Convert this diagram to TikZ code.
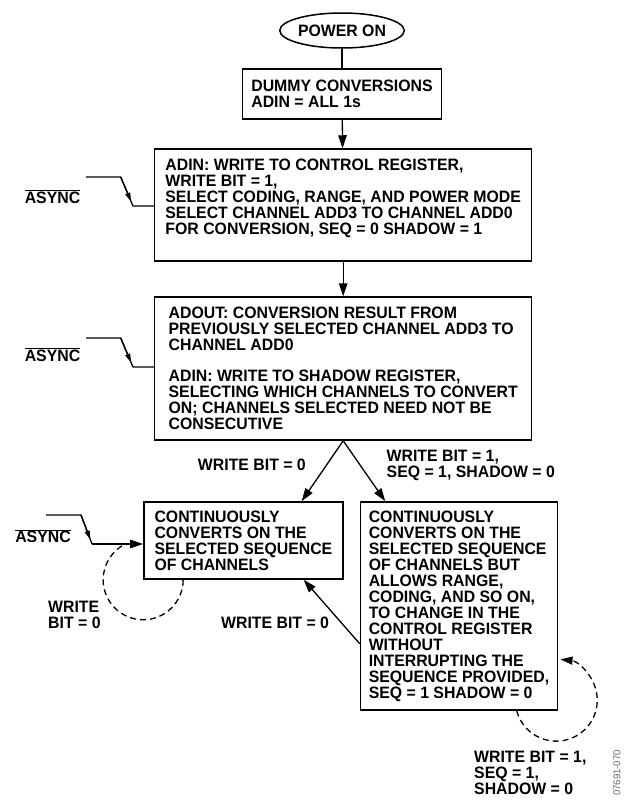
\documentclass[tikz,border=0pt]{standalone}
\usepackage{fontspec}
\setmainfont{Liberation Sans}[FakeStretch=0.96]
\usepackage{tikz}
\usetikzlibrary{arrows.meta, calc, shapes.geometric}

\begin{document}
\begin{tikzpicture}[
  x=1pt, y=-1pt,
  txt/.style={font=\fontsize{16.5}{16}\selectfont\bfseries, align=left, inner sep=0pt},
  box/.style={txt, draw=black, line width=1.5pt, rectangle},
  flow/.style={line width=1.3pt, -{Triangle[length=13pt, width=8.5pt]}},
  sig/.style={line width=1.3pt},
  sigtip/.style={line width=1.3pt, -{Triangle[length=9pt, width=5pt]}},
  loopback/.style={line width=1.3pt, dash pattern=on 6pt off 4pt},
]
\useasboundingbox (0,0) rectangle (636,801);
% main column
\node[txt, draw, ellipse, line width=1.5pt, minimum width=121, minimum height=35] (pwr) at (342,30.5) {POWER ON};
\node[box, minimum width=199, minimum height=50] (dummy) at (342,94) {DUMMY CONVERSIONS\\ADIN = ALL 1s};
\node[box, minimum width=377, minimum height=112] (ctrl) at (343.2,205)
  {ADIN: WRITE TO CONTROL REGISTER,\\WRITE BIT = 1,\\SELECT CODING, RANGE, AND POWER MODE\\SELECT CHANNEL ADD3 TO CHANNEL ADD0\\FOR CONVERSION, SEQ = 0 SHADOW = 1\\\mbox{}};
\node[box, minimum width=377, minimum height=143] (rd) at (343.2,368.5)
  {ADOUT: CONVERSION RESULT FROM\\PREVIOUSLY SELECTED CHANNEL ADD3 TO\\CHANNEL ADD0\\[15pt]ADIN: WRITE TO SHADOW REGISTER,\\SELECTING WHICH CHANNELS TO CONVERT\\ON; CHANNELS SELECTED NEED NOT BE\\CONSECUTIVE};
\node[box, minimum width=199, minimum height=77] (cont) at (243.4,540.5)
  {CONTINUOUSLY\\CONVERTS ON THE\\SELECTED SEQUENCE\\OF CHANNELS};
\node[box, minimum width=197, minimum height=208] (contp) at (459,606)
  {CONTINUOUSLY\\CONVERTS ON THE\\SELECTED SEQUENCE\\OF CHANNELS BUT\\ALLOWS RANGE,\\CODING, AND SO ON,\\TO CHANGE IN THE\\CONTROL REGISTER\\WITHOUT\\INTERRUPTING THE\\SEQUENCE PROVIDED,\\SEQ = 1 SHADOW = 0};

\draw[sig] (pwr) -- (dummy);
\draw[flow] (dummy) -- (ctrl);
\draw[flow] (ctrl) -- (rd);
\coordinate (inL) at ($(cont.north east)+(-42,0)$);
\coordinate (inR) at ($(contp.north west)+(25.5,0)$);
\draw[flow] (rd.south) -- (inL);
\draw[flow] (rd.south) -- (inR);
\draw[flow] ($(contp.south west)+(0,-67)$) -- ($(cont.south east)+(-40,0)$);

% async inputs
\node[txt] (as1) at (52.5,196.5) {$\overline{\mbox{ASYNC}}$};
\coordinate (s1a) at (86,177);
\coordinate (s1b) at (120.7,177);
\coordinate (s1c) at (133,206);
\draw[sig] (s1a) -- (s1b) -- (s1c) -- (s1c -| ctrl.west);
\draw[sigtip] (s1b) -- ($(s1b)!0.85!(s1c)$);

\node[txt] (as2) at (52.5,354.5) {$\overline{\mbox{ASYNC}}$};
\coordinate (s2a) at (86,338);
\coordinate (s2b) at (120.7,338);
\coordinate (s2c) at (133,367);
\draw[sig] (s2a) -- (s2b) -- (s2c) -- (s2c -| rd.west);
\draw[sigtip] (s2b) -- ($(s2b)!0.85!(s2c)$);

\node[txt] (as3) at (43,536) {$\overline{\mbox{ASYNC}}$};
\coordinate (s3a) at (46,515);
\coordinate (s3b) at (81,515);
\coordinate (s3c) at (92,544);
\draw[sig] (s3a) -- (s3b) -- (s3c);
\draw[sigtip] (s3b) -- ($(s3b)!0.85!(s3c)$);
\draw[flow] (s3c) -- (s3c -| cont.west);

% self loops
\draw[loopback] ($(cont.south west)+(40,0)$) arc[start angle=0, end angle=245, radius=40];
\draw[loopback, -{Triangle[length=12pt, width=8pt]}] ($(contp.south east)+(-41.6,0)$) arc[start angle=165, end angle=-84, radius=41];

% labels
\node[txt, anchor=east] (wb0a) at (306,465) {WRITE BIT = 0};
\node[txt, anchor=west] (wb1a) at (386.5,465) {WRITE BIT = 1,\\SEQ = 1, SHADOW = 0};
\node[txt, anchor=west] (wb0b) at (48,615) {WRITE\\BIT = 0};
\node[txt, anchor=west] (wb0c) at (221,623) {WRITE BIT = 0};
\node[txt, anchor=west] (wb1b) at (474,772.5) {WRITE BIT = 1,\\SEQ = 1,\\SHADOW = 0};
\node[font=\fontsize{10}{10}\selectfont, text=black!60, rotate=90, inner sep=0pt] (fig) at (617,773) {07691-070};
\end{tikzpicture}
\end{document}
